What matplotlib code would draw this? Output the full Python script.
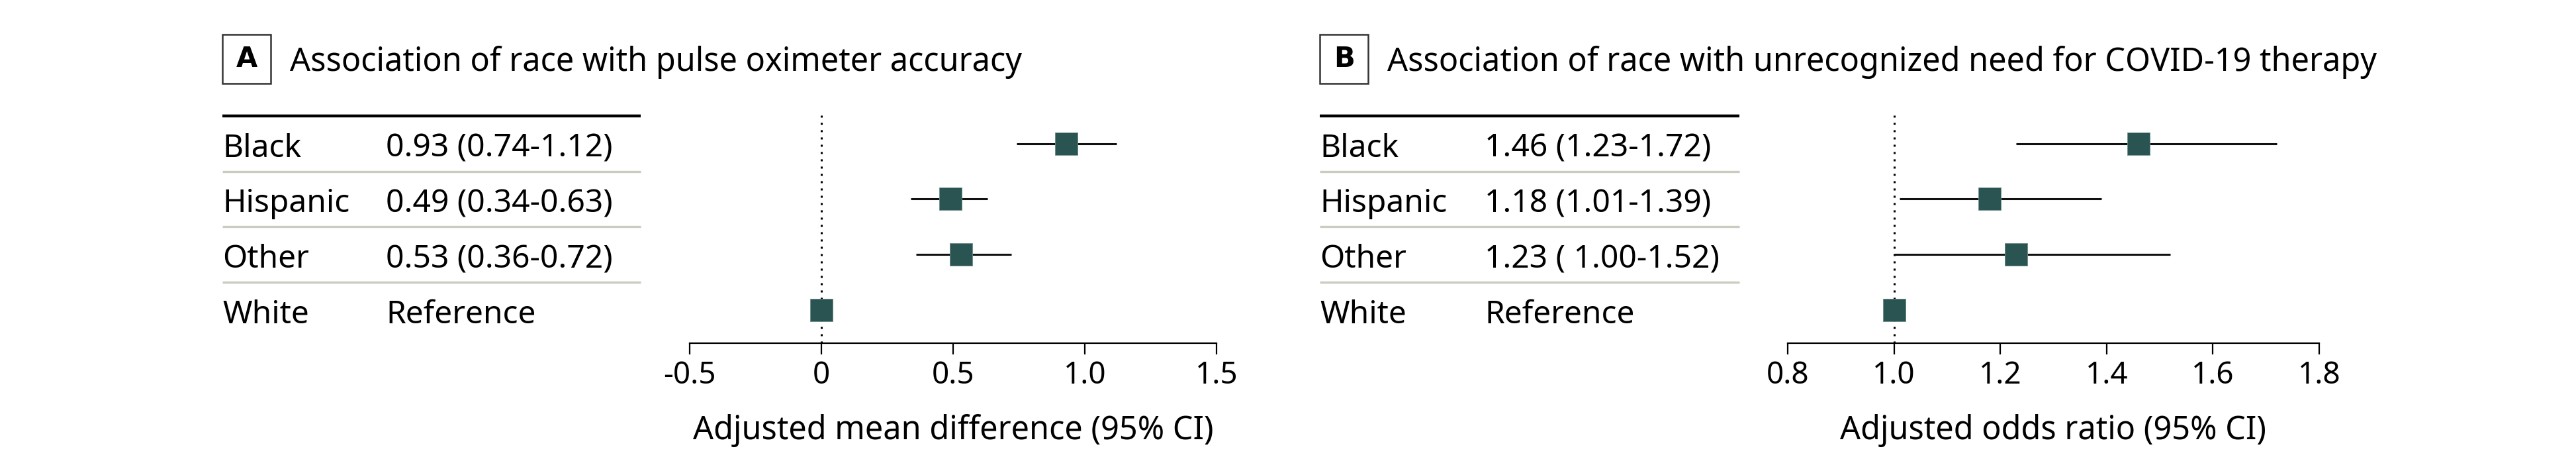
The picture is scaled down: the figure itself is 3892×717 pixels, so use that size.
import numpy as np
import matplotlib
matplotlib.use('Agg')
import matplotlib.pyplot as plt
import matplotlib.transforms as mtransforms
from matplotlib.lines import Line2D
from matplotlib.patches import Rectangle

plt.rcParams['font.family'] = ['Noto Sans', 'DejaVu Sans']

# Data
groups = ['Black', 'Hispanic', 'Other', 'White']

a_est = [0.93, 0.49, 0.53, 0.0]
a_lo = [0.74, 0.34, 0.36, np.nan]
a_hi = [1.12, 0.63, 0.72, np.nan]
a_text = ['0.93 (0.74-1.12)', '0.49 (0.34-0.63)', '0.53 (0.36-0.72)', 'Reference']
a_ticks = [-0.5, 0, 0.5, 1.0, 1.5]
a_ticklabels = ['-0.5', '0', '0.5', '1.0', '1.5']

b_est = [1.46, 1.18, 1.23, 1.0]
b_lo = [1.23, 1.01, 1.00, np.nan]
b_hi = [1.72, 1.39, 1.52, np.nan]
b_text = ['1.46 (1.23-1.72)', '1.18 (1.01-1.39)', '1.23 ( 1.00-1.52)', 'Reference']
b_ticks = [0.8, 1.0, 1.2, 1.4, 1.6, 1.8]
b_ticklabels = ['0.8', '1.0', '1.2', '1.4', '1.6', '1.8']

W, H = 3892, 717
fig = plt.figure(figsize=(W / 100, H / 100), dpi=100)

box_col = '#2a5452'
sep_col = '#c9ccbe'


def fx(x):
    return x / W


def fy(y):
    return 1 - y / H


def panel(letter, title, est, lo, hi, texts, ticks, ticklabels, ref, xlabel,
          ax_left, ax_right, tab_left, val_left, tab_right):
    ax = fig.add_axes([fx(ax_left), fy(518), fx(ax_right - ax_left), (518 - 174) / H])
    ypos = np.arange(len(groups))[::-1]  # Black on top
    ax.set_xlim(ticks[0], ticks[-1])
    ax.set_ylim(-0.6, 3.51)

    # reference line
    ax.axvline(ref, color='k', lw=2.2, ls=(0, (1, 2.6)))
    # confidence intervals + point estimates
    for y, e, l, h in zip(ypos, est, lo, hi):
        if not np.isnan(l):
            ax.plot([l, h], [y, y], color='#111111', lw=2.2, solid_capstyle='butt')
        ax.plot(e, y, marker='s', ms=24, color=box_col, mec='#6f8f8c', mew=0.6, clip_on=False, zorder=3)

    for s in ['top', 'left', 'right']:
        ax.spines[s].set_visible(False)
    ax.spines['bottom'].set_linewidth(1.6)
    ax.set_yticks([])
    ax.set_xticks(ticks)
    ax.set_xticklabels(ticklabels)
    ax.tick_params(axis='x', direction='out', length=12.5, width=1.6, labelsize=33, pad=6)
    ax.set_xlabel(xlabel, fontsize=35)
    ax.xaxis.set_label_coords(0.5, (518 - 663) / 344)
    ax.xaxis.label.set_va('baseline')

    # table on the left
    trans = mtransforms.blended_transform_factory(fig.transFigure, ax.transData)
    ttrans = mtransforms.offset_copy(trans, fig=fig, x=0, y=-20, units='dots')
    for y, g, t in zip(ypos, groups, texts):
        fig.text(fx(tab_left), y, g, transform=ttrans, fontsize=34.5, va='baseline', ha='left')
        fig.text(fx(val_left), y, t, transform=ttrans, fontsize=34.5, va='baseline', ha='left')
    fig.add_artist(Line2D([fx(tab_left), fx(tab_right)], [fy(175), fy(175)], color='k', lw=3.2,
                          solid_capstyle='butt'))
    for y in [2.5, 1.5, 0.5]:
        fig.add_artist(Line2D([fx(tab_left), fx(tab_right)], [y, y], transform=trans,
                              color=sep_col, lw=2.4, solid_capstyle='butt'))

    # panel letter box and title
    fig.add_artist(Rectangle((fx(tab_left), fy(126)), fx(73), 74 / H, transform=fig.transFigure,
                             fill=False, ec='#333333', lw=1.8))
    fig.text(fx(tab_left + 36.5), fy(89), letter, fontsize=30, fontweight='bold',
             family=['DejaVu Sans'], ha='center', va='center')
    fig.text(fx(tab_left + 102), fy(107), title, fontsize=35, ha='left', va='baseline')
    return ax


panel('A', 'Association of race with pulse oximeter accuracy', a_est, a_lo, a_hi, a_text,
      a_ticks, a_ticklabels, 0, 'Adjusted mean difference (95% CI)',
      1042, 1838, 336, 583, 968)
panel('B', 'Association of race with unrecognized need for COVID-19 therapy', b_est, b_lo, b_hi, b_text,
      b_ticks, b_ticklabels, 1.0, 'Adjusted odds ratio (95% CI)',
      2701, 3504, 1994, 2243, 2628)

fig.savefig('out.png', dpi=100, facecolor='white')
